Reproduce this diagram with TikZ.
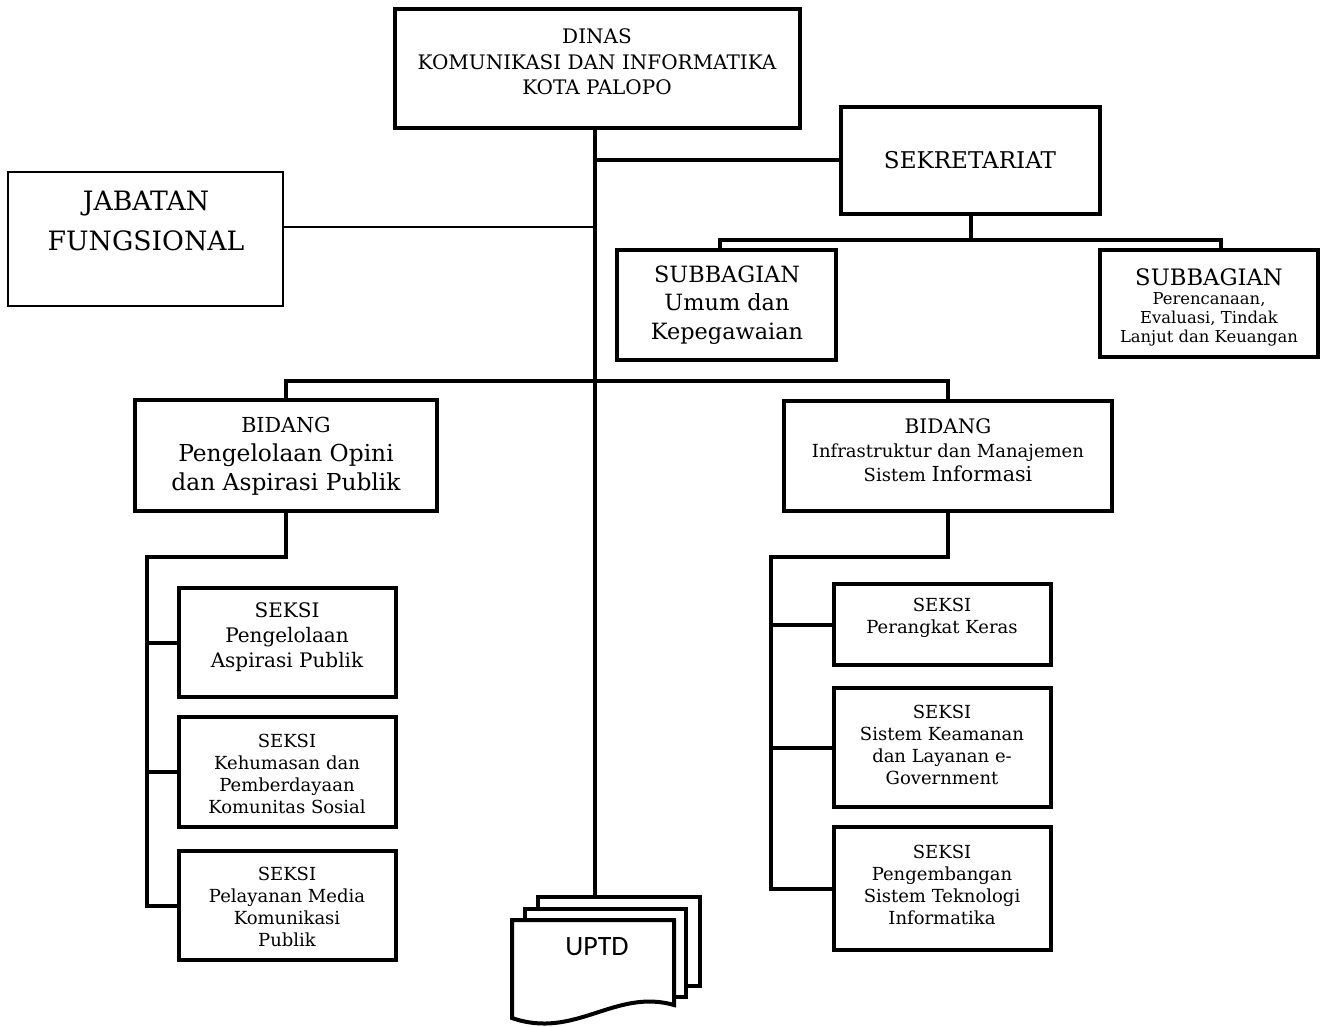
\documentclass[tikz,border=0pt]{standalone}
\usepackage{fontspec}
\setmainfont{DejaVu Serif}
\newfontfamily\uptdfont{Carlito}
\usetikzlibrary{fit}
\tikzset{
  x=0.75pt, y=-0.75pt,
  boxthick/.style={draw, line width=3pt, inner sep=0pt, fill=white},
  boxthin/.style={draw, line width=1.5pt, inner sep=0pt, fill=white},
  ln/.style={line width=3pt},
  lnthin/.style={line width=1.2pt},
  txt/.style={align=center, inner sep=0pt},
  seksi/.style={txt, font=\fs{13.5}{16.5}},
}
\newcommand{\fs}[2]{\fontsize{#1}{#2}\selectfont}
\begin{document}
\begin{tikzpicture}
\useasboundingbox (0,0) rectangle (1323,1027);
% boxes
\node[boxthick, fit={(395,9) (800,128)}] (dinas) {};
\node[boxthick, fit={(841,107) (1100,214)}] (sek) {};
\node[boxthin, fit={(8,172) (283,306)}] (jab) {};
\node[boxthick, fit={(617,250) (836,360)}] (sub1) {};
\node[boxthick, fit={(1100,250) (1318,357)}] (sub2) {};
\node[boxthick, fit={(135,400) (437,511)}] (b1) {};
\node[boxthick, fit={(784,401) (1112,511)}] (b2) {};
\node[boxthick, fit={(179,588) (396,697)}] (l1) {};
\node[boxthick, fit={(179,717) (396,827)}] (l2) {};
\node[boxthick, fit={(179,851) (396,960)}] (l3) {};
\node[boxthick, fit={(834,584) (1051,665)}] (r1) {};
\node[boxthick, fit={(834,688) (1051,807)}] (r2) {};
\node[boxthick, fit={(834,827) (1051,950)}] (r3) {};
% UPTD stacked documents
\node[inner sep=0pt, fit={(538,897) (700,986)}] (uptdB) {};
\draw[ln, fill=white, line join=miter] (538,897) rectangle (700,986);
\draw[ln, fill=white, line join=miter] (525,909) rectangle (686,997);
\draw[ln, fill=white, line join=miter] (512,920) -- (674,920) -- (674,1005)
  .. controls (615,988) and (575,1040) .. (512,1018) -- cycle;
\node[txt, font=\uptdfont\fs{21}{24}] (uptd) at (597,947) {UPTD};
% texts
\node[txt, font=\fs{15}{19}] (tdinas) at (597,62) {DINAS\\KOMUNIKASI DAN INFORMATIKA\\KOTA PALOPO};
\node[txt, font=\fs{17.3}{20}] (tsek) at (970,160) {SEKRETARIAT};
\node[txt, font=\fs{20}{30}] (tjab) at (146,221) {JABATAN\\FUNGSIONAL};
\node[txt, font=\fs{16.8}{21.5}] (tsub1) at (727,305) {SUBBAGIAN\\Umum dan\\Kepegawaian};
\node[txt, font=\fs{17}{20}] (tsub2a) at (1209,277) {SUBBAGIAN};
\node[txt, font=\fs{12.3}{14.25}] (tsub2b) at (1209,319) {Perencanaan,\\Evaluasi, Tindak\\Lanjut dan Keuangan};
\node[txt, font=\fs{17.5}{21.75}] (tb1) at (286,456) {{\fs{15.5}{21.75}BIDANG}\\Pengelolaan Opini\\dan Aspirasi Publik};
\node[txt, font=\fs{13.5}{18}] (tb2) at (948,450) {{\fs{15}{18}BIDANG}\\Infrastruktur dan Manajemen\\Sistem {\fs{15.5}{18}Informasi}};
\node[txt, font=\fs{15}{19}] (tl1) at (287,637) {SEKSI\\Pengelolaan\\Aspirasi Publik};
\node[seksi] (tl2) at (287,774) {SEKSI\\Kehumasan dan\\Pemberdayaan\\Komunitas Sosial};
\node[seksi] (tl3) at (287,907) {SEKSI\\Pelayanan Media\\Komunikasi\\Publik};
\node[seksi] (tr1) at (942,618) {SEKSI\\Perangkat Keras};
\node[seksi] (tr2) at (942,745) {SEKSI\\Sistem Keamanan\\dan Layanan e-\\Government};
\node[seksi] (tr3) at (942,885) {SEKSI\\Pengembangan\\Sistem Teknologi\\Informatika};
% coordinates
\coordinate (trunk) at (595,128);
\coordinate (bus) at (595,381);
\coordinate (jabc) at (283,227);
\coordinate (sekbus) at (970.5,240);
\coordinate (Ltop) at (147,557);
\coordinate (Rtop) at (771,557);
% connectors
\draw[ln] (trunk) -- (trunk |- uptdB.north);
\draw[ln] (trunk |- sek.west) -- (sek.west);
\draw[lnthin] (jabc) -- (jabc -| trunk);
\draw[ln] (sek.south) -- (sekbus);
\draw[ln] ([xshift=-5]sub1.north) |- (sekbus) -| ([xshift=9]sub2.north);
\draw[ln] (b1.north) |- (bus) -| (b2.north);
\draw[ln] (b1.south) |- (Ltop) -- (Ltop |- l3.west) -- (l3.west);
\draw[ln] (Ltop |- l1.west) -- (l1.west);
\draw[ln] (Ltop |- l2.west) -- (l2.west);
\draw[ln] (b2.south) |- (Rtop) -- (Rtop |- r3.west) -- (r3.west);
\draw[ln] (Rtop |- r1.west) -- (r1.west);
\draw[ln] (Rtop |- r2.west) -- (r2.west);
\end{tikzpicture}
\end{document}
